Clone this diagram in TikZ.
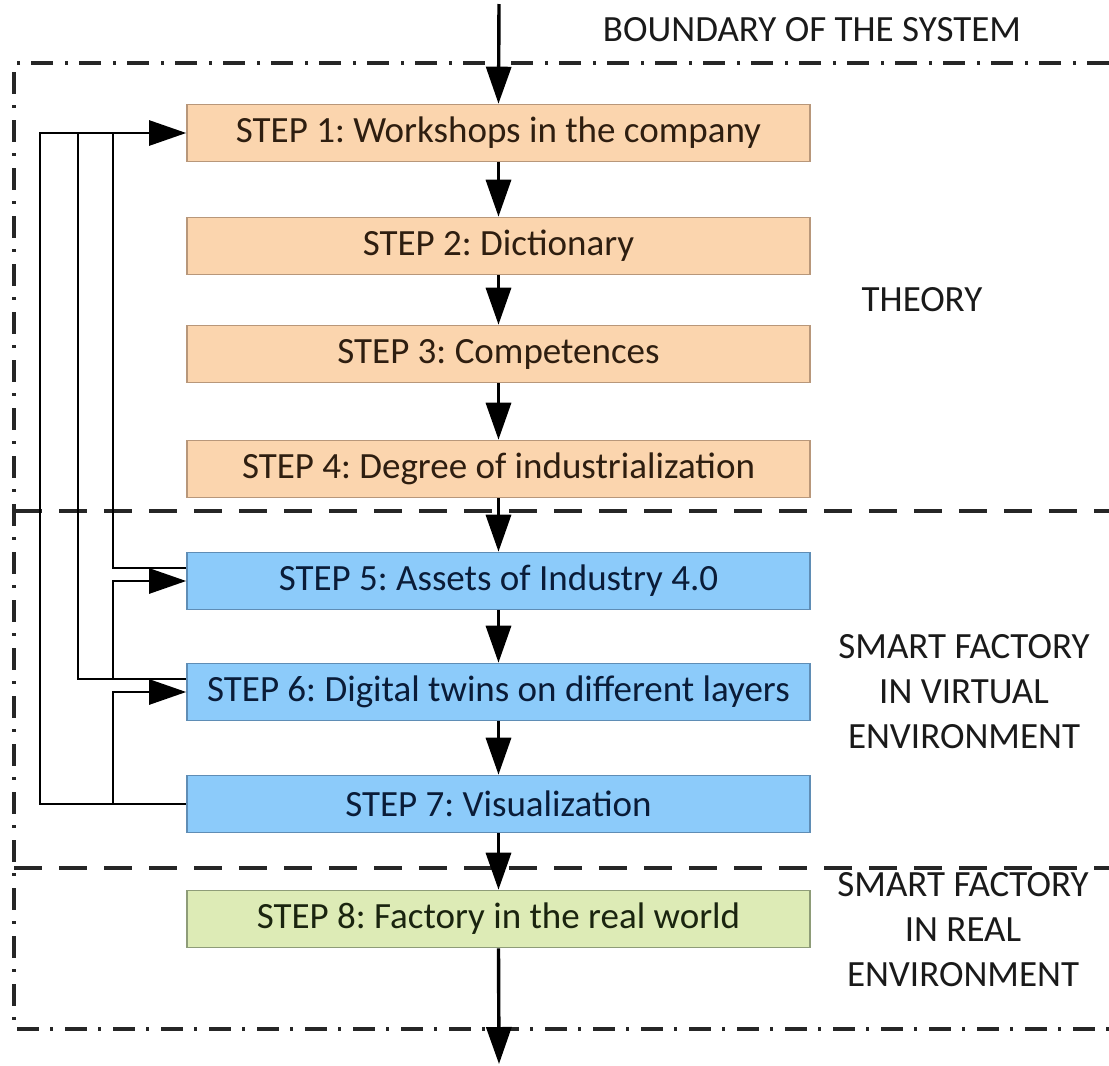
\documentclass[tikz,border=0pt]{standalone}
\usepackage{fontspec}
\setmainfont{Carlito}
\usetikzlibrary{arrows.meta}
\definecolor{orfill}{HTML}{FBD5AE}
\definecolor{ordraw}{HTML}{B8977A}
\definecolor{ortext}{HTML}{2E1E10}
\definecolor{blfill}{HTML}{8CCBFA}
\definecolor{bldraw}{HTML}{5F8DB5}
\definecolor{bltext}{HTML}{0A1C38}
\definecolor{grfill}{HTML}{DDEBB6}
\definecolor{grdraw}{HTML}{8E9C78}
\definecolor{grtext}{HTML}{1A240F}
\definecolor{lbltext}{HTML}{1A1A1A}
\tikzset{
  stepbox/.style={draw, line width=1.6pt, minimum width=623pt, minimum height=57pt,
    inner sep=0pt, font=\fontsize{37}{45}\selectfont},
  orbox/.style={stepbox, fill=orfill, draw=ordraw, text=ortext},
  blbox/.style={stepbox, fill=blfill, draw=bldraw, text=bltext},
  grbox/.style={stepbox, fill=grfill, draw=grdraw, text=grtext},
  lbl/.style={align=center, text=lbltext, font=\fontsize{37}{45}\selectfont, inner sep=0pt},
  tip/.style={-{Triangle[length=37pt,width=25pt]}},
  mainarrow/.style={line width=3.4pt, tip},
  fb/.style={line width=2.6pt},
  fbarrow/.style={fb, tip},
  dashdot/.style={line width=3.4pt, dash pattern=on 22pt off 11pt on 3pt off 12pt, color=black!85},
  dashline/.style={line width=3.6pt, dash pattern=on 28pt off 17pt, color=black!85}
}
\begin{document}
\frenchspacing
\begin{tikzpicture}[x=1pt,y=-1pt]
\useasboundingbox (0,0) rectangle (1109,1066);
% boundaries
\draw[dashdot] (1109,63) -- (14,63) -- (14,1029) -- (1109,1029);
\draw[dashline] (14,511) -- (1109,511);
\draw[dashline] (14,868) -- (1109,868);
% step boxes
\node[orbox] (s1) at (498.5,133) {STEP 1: Workshops in the company};
\node[orbox] (s2) at (498.5,246) {STEP 2: Dictionary};
\node[orbox] (s3) at (498.5,354) {STEP 3: Competences};
\node[orbox] (s4) at (498.5,469) {STEP 4: Degree of industrialization};
\node[blbox] (s5) at (498.5,581) {STEP 5: Assets of Industry 4.0};
\node[blbox] (s6) at (498.5,692) {STEP 6: Digital twins on different layers};
\node[blbox] (s7) at (498.5,804) {STEP 7: Visualization};
\node[grbox] (s8) at (498.5,919) {STEP 8: Factory in the real world};
% labels
\node[lbl] (lb) at (812,30) {BOUNDARY OF THE SYSTEM};
\node[lbl] (lt) at (922,300) {THEORY};
\node[lbl] (lv) at (964,692) {SMART FACTORY\\IN VIRTUAL\\ENVIRONMENT};
\node[lbl] (lr) at (963,930) {SMART FACTORY\\IN REAL\\ENVIRONMENT};
% main flow
\coordinate (in) at (499,4);
\coordinate (out) at (499,1064);
\draw[mainarrow] (in) -- (s1.north);
\draw[mainarrow] (s1) -- (s2);
\draw[mainarrow] (s2) -- (s3);
\draw[mainarrow] (s3) -- (s4);
\draw[mainarrow] (s4) -- (s5);
\draw[mainarrow] (s5) -- (s6);
\draw[mainarrow] (s6) -- (s7);
\draw[mainarrow] (s7) -- (s8);
\draw[mainarrow] (s8.south) -- (out);
% feedback loops
\coordinate (xa) at (40,0);
\coordinate (xb) at (78,0);
\coordinate (xc) at (113,0);
\draw[fbarrow] (s7.west) -- (s7.west -| xa) |- (s1.west);
\draw[fb] ([yshift=13pt]s6.west) -- ([yshift=13pt]s6.west -| xb) -- (xb |- s1.west);
\draw[fb] ([yshift=13pt]s5.west) -- ([yshift=13pt]s5.west -| xc) -- (xc |- s1.west);
\draw[fbarrow] (s7.west -| xc) |- (s6.west);
\draw[fbarrow] ([yshift=13pt]s6.west -| xc) |- (s5.west);
\end{tikzpicture}
\end{document}
